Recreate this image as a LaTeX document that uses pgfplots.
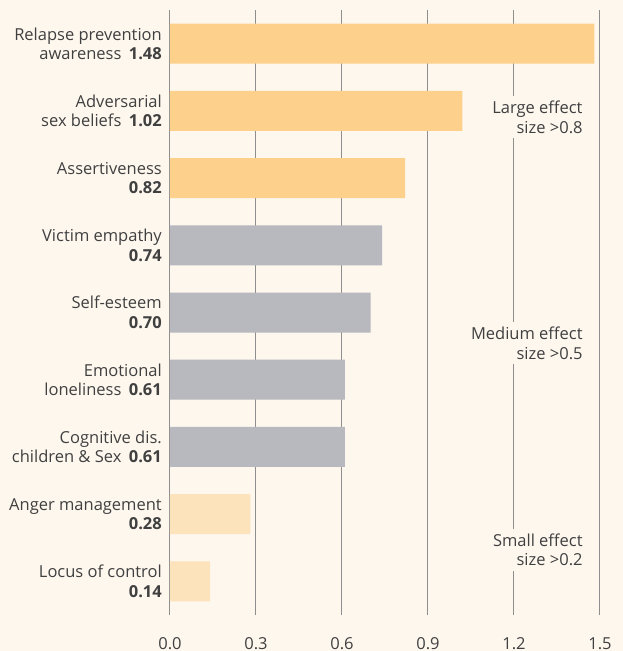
\documentclass[border=0pt]{standalone}
\usepackage{pgfplots}
\pgfplotsset{compat=1.18}
\usepackage{fontspec}
\setmainfont{Open Sans}
\definecolor{bgc}{HTML}{FDF7EE}
\definecolor{orangebar}{HTML}{FDD08B}
\definecolor{graybar}{HTML}{B8B8BF}
\definecolor{lightbar}{HTML}{FDE3BB}
\definecolor{txt}{HTML}{404040}
\definecolor{gridc}{HTML}{8E8E8E}
\begin{document}
\begin{tikzpicture}
\clip (-170pt,-36pt) rectangle (453pt,615pt);
\fill[bgc] (-170pt,-36pt) rectangle (453pt,615pt);
\begin{axis}[
  at={(0pt,0pt)}, anchor=south west,
  scale only axis, width=430pt, height=605pt,
  xmin=0, xmax=1.5, ymin=-0.5, ymax=8.5,
  xbar, bar width=40pt, bar shift=0pt,
  axis line style={draw=none},
  major tick length=0pt,
  xtick={0,0.3,0.6,0.9,1.2,1.5},
  xmajorgrids, major grid style={draw=gridc, line width=1pt},
  ymajorgrids=false,
  ytick={0,1,2,3,4,5,6,7,8},
  yticklabels={
    {Locus of control\\\textbf{0.14}},
    {Anger management\\\textbf{0.28}},
    {Cognitive dis.\\children \& Sex\hspace{0.45em}\textbf{0.61}},
    {Emotional\\loneliness\hspace{0.45em}\textbf{0.61}},
    {Self-esteem\\\textbf{0.70}},
    {Victim empathy\\\textbf{0.74}},
    {Assertiveness\\\textbf{0.82}},
    {Adversarial\\sex beliefs\hspace{0.45em}\textbf{1.02}},
    {Relapse prevention\\awareness\hspace{0.45em}\textbf{1.48}}},
  yticklabel style={align=right, inner xsep=0pt, xshift=-8pt, text=txt,
    font=\fontsize{16.5}{19.5}\selectfont},
  xticklabel style={anchor=base, yshift=-34pt, text=txt,
    font=\fontsize{16.5}{19.5}\selectfont},
  /pgf/number format/assume math mode=true,
  /pgf/number format/.cd, fixed, fixed zerofill, precision=1,
]
\addplot[fill=orangebar, draw=none] coordinates {(1.48,8) (1.02,7) (0.82,6)};
\addplot[fill=graybar, draw=none] coordinates {(0.74,5) (0.70,4) (0.61,3) (0.61,2)};
\addplot[fill=lightbar, draw=none] coordinates {(0.28,1) (0.14,0)};
\node[fill=bgc, align=right, anchor=east, inner xsep=0pt, inner ysep=5pt, text=txt,
  font=\fontsize{16.5}{19.5}\selectfont] at (axis cs:1.44,6.905) {Large effect\\size >0.8};
\node[fill=bgc, align=right, anchor=east, inner xsep=0pt, inner ysep=5pt, text=txt,
  font=\fontsize{16.5}{19.5}\selectfont] at (axis cs:1.44,3.545) {Medium effect\\size >0.5};
\node[fill=bgc, align=right, anchor=east, inner xsep=0pt, inner ysep=5pt, text=txt,
  font=\fontsize{16.5}{19.5}\selectfont] at (axis cs:1.44,0.467) {Small effect\\size >0.2};
\end{axis}
\end{tikzpicture}
\end{document}
